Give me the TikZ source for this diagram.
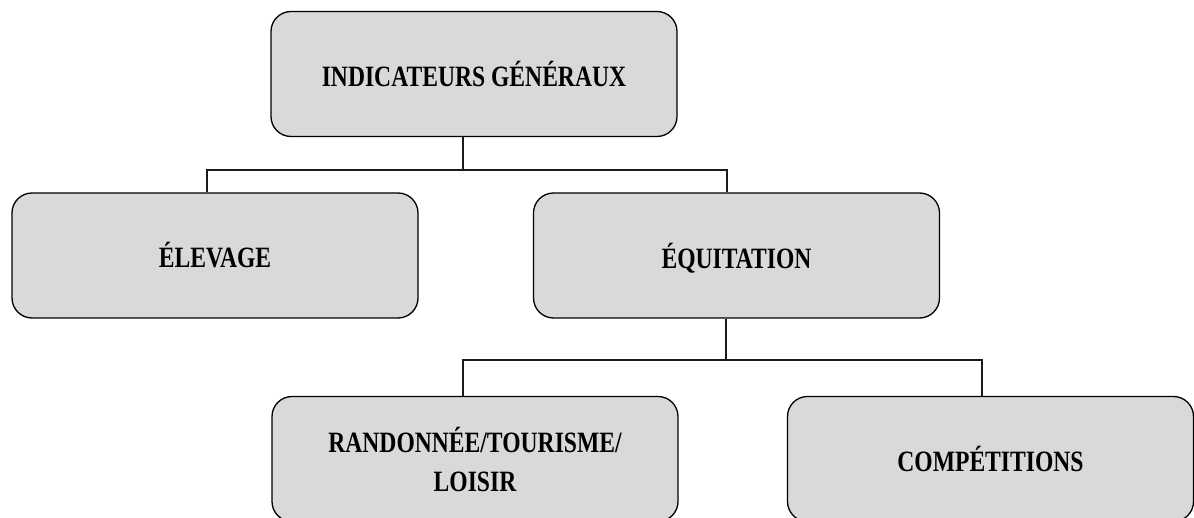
\documentclass[tikz,border=0pt]{standalone}
\usepackage{fontspec}
\newfontfamily\boxfont[FakeStretch=0.8]{Liberation Serif}
\usepackage{tikz}
\usetikzlibrary{positioning}
\usepackage{xcolor}
\definecolor{BoxGray}{HTML}{D9D9D9}
\definecolor{LineGray}{HTML}{1A1A1A}

\begin{document}
\begin{tikzpicture}[x=1pt, y=-1pt,
                box/.style={draw=black, fill=BoxGray, line width=1.3pt, rounded corners=20pt,
                    minimum width=406pt, minimum height=125pt, align=center,
                    font=\boxfont\bfseries\fontsize{29.5}{39}\selectfont},
                link/.style={draw=LineGray, line width=1.1pt}]
                \useasboundingbox (0,0) rectangle (1194,518);
                \node[box] (general) at (474,74) {INDICATEURS GÉNÉRAUX};
                \node[box] (elevage) at (215,255.5) {ÉLEVAGE};
                \node[box, text depth=0pt] (equitation) at (736.5,255.5) {ÉQUITATION};
                \node[box] (loisir) at (475,459) {RANDONNÉE/TOURISME/\\LOISIR};
                \node[box] (competition) at (990.5,459) {COMPÉTITIONS};
                \coordinate (busA) at (463,170);
                \coordinate (busB) at (726,360);
                \draw[link] ([xshift=-11pt]general.south) -- (busA);
                \draw[link] ([xshift=-8pt]elevage.north) |- (busA) -| ([xshift=-9.5pt]equitation.north);
                \draw[link] ([xshift=-10.5pt]equitation.south) -- (busB);
                \draw[link] ([xshift=-12pt]loisir.north) |- (busB) -| ([xshift=-8.5pt]competition.north);
            \end{tikzpicture}
\end{document}
